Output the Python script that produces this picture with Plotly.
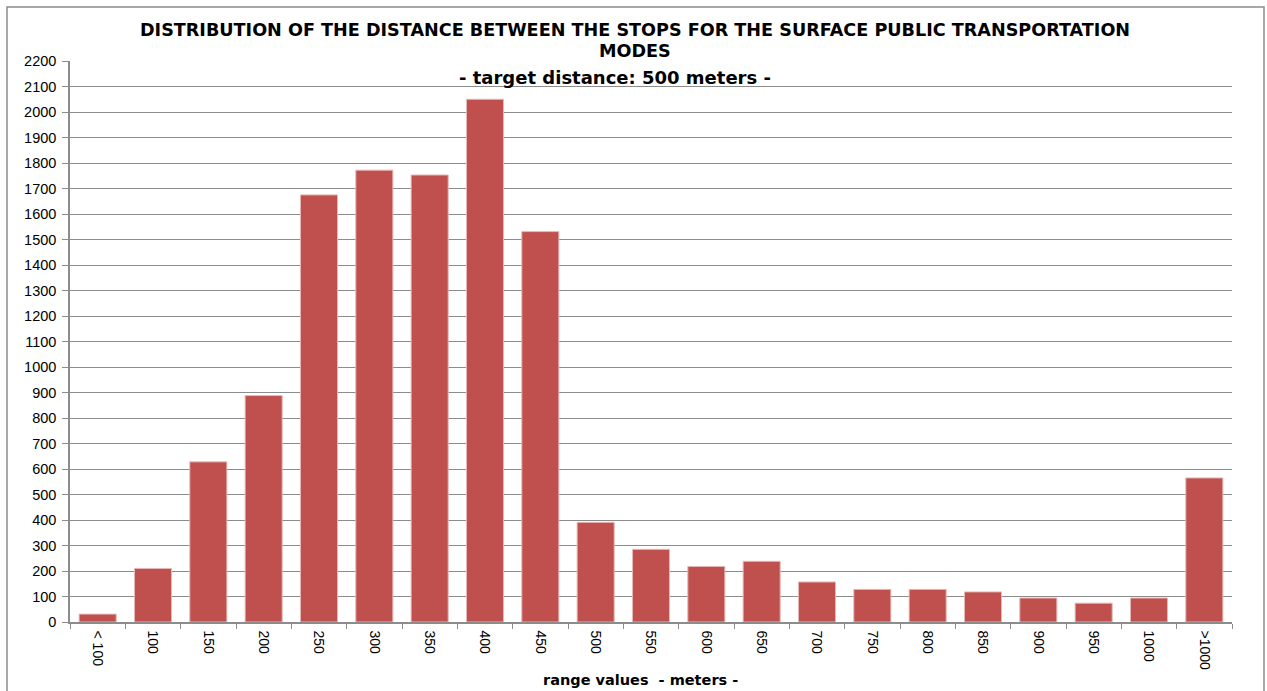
import plotly.graph_objects as go

# Distance classes (meters) and number of stop-to-stop segments in each
categories = ["< 100", "100", "150", "200", "250", "300", "350", "400", "450", "500",
              "550", "600", "650", "700", "750", "800", "850", "900", "950", "1000", ">1000"]
counts = [31, 210, 628, 888, 1675, 1772, 1753, 2050, 1531, 391,
          285, 218, 238, 157, 128, 128, 118, 94, 74, 94, 565]
y_ticks = list(range(0, 2201, 100))

W, H = 1267, 691
L, R, T, B = 70, 35, 61, 69
pw, ph = W - L - R, H - T - B


def px(x):
    return (x - L) / pw


def py(y):
    return (H - B - y) / ph


fig = go.Figure(go.Bar(
    x=categories, y=counts,
    marker=dict(color="#C0504D", line=dict(color="#E6B9B8", width=1)),
))

grey = "#8C8C8C"
font_fam = "Liberation Sans, Arial, sans-serif"
head_fam = "DejaVu Sans, Arial, sans-serif"

fig.update_layout(
    width=W, height=H,
    margin=dict(l=L, r=R, t=T, b=B),
    paper_bgcolor="white", plot_bgcolor="white",
    bargap=0.33, showlegend=False,
    font=dict(family=font_fam, color="black"),
    xaxis=dict(
        type="category", tickangle=90, tickson="boundaries",
        ticks="outside", ticklen=5, tickcolor=grey, ticklabelstandoff=4,
        showline=True, linecolor=grey, linewidth=1.5,
        showgrid=False, tickfont=dict(size=14, family=font_fam),
        range=[-0.5, len(categories) - 0.5],
    ),
    yaxis=dict(
        range=[0, 2200], tickvals=y_ticks, ticktext=[str(v) for v in y_ticks],
        ticks="outside", ticklen=6, tickcolor=grey, ticklabelstandoff=3,
        showline=True, linecolor=grey, linewidth=1.5,
        showgrid=True, gridcolor=grey, gridwidth=1,
        zeroline=False, tickfont=dict(size=14.5, family=font_fam),
    ),
)

title_font = dict(family=head_fam, size=17.6, color="black")
fig.add_annotation(
    text="<b>DISTRIBUTION OF THE DISTANCE BETWEEN THE STOPS FOR THE SURFACE PUBLIC TRANSPORTATION</b>",
    xref="paper", yref="paper", x=px(635), y=py(30), showarrow=False,
    xanchor="center", yanchor="middle", font=title_font)
fig.add_annotation(
    text="<b>MODES</b>",
    xref="paper", yref="paper", x=px(635), y=py(51), showarrow=False,
    xanchor="center", yanchor="middle", font=title_font)
fig.add_annotation(
    text="<b>- target distance: 500 meters -</b>",
    xref="paper", yref="paper", x=px(615), y=py(77), showarrow=False,
    xanchor="center", yanchor="middle",
    font=dict(family=head_fam, size=18, color="black"))
fig.add_annotation(
    text="<b>range values  - meters -</b>",
    xref="paper", yref="paper", x=px(640), y=py(680), showarrow=False,
    xanchor="center", yanchor="middle",
    font=dict(family=head_fam, size=14.5, color="black"))

# Chart frame
fig.add_shape(type="rect", xref="paper", yref="paper",
              x0=px(7), x1=px(1264), y0=py(730), y1=py(7),
              line=dict(color=grey, width=1.5), fillcolor="rgba(0,0,0,0)", layer="below")

fig.write_html("out.html")
